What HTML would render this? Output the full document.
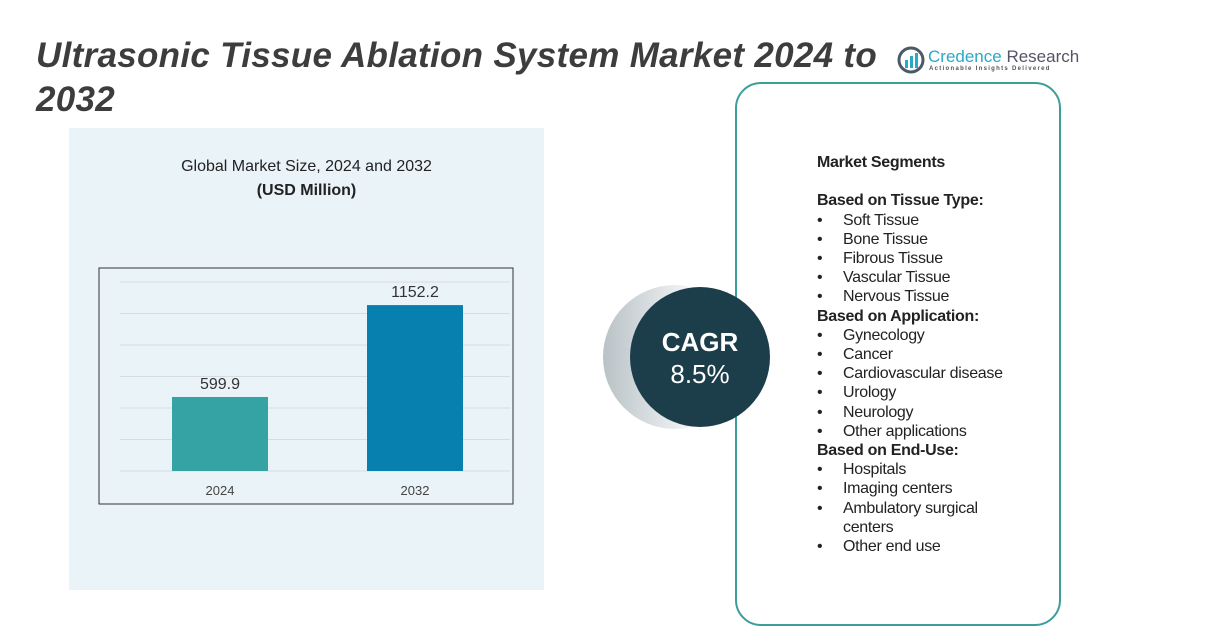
<!DOCTYPE html>
<html><head><meta charset="utf-8"><style>
body{margin:0;width:1206px;height:642px;background:#fff;position:relative;overflow:hidden;font-family:"Liberation Sans",sans-serif;color:#222}
.abs{position:absolute}
#title{left:36px;top:34px;font-size:35px;font-weight:bold;font-style:italic;color:#3d3d3d;line-height:44px;width:880px;letter-spacing:0.3px}
#panel{left:69px;top:128px;width:475px;height:462px;background:#eaf3f8}
#card{left:735px;top:82px;width:322px;height:540px;border:2px solid #3c9d9b;border-radius:26px;background:#fff}
#seg{left:817px;top:153px;font-size:16px;line-height:19.2px;color:#222;letter-spacing:-0.3px}
#seg b{font-weight:bold}
.li{padding-left:26px;position:relative}
.li:before{content:"•";position:absolute;left:0}
</style></head><body>
<div class="abs" id="title">Ultrasonic Tissue Ablation System Market 2024 to 2032</div>
<div class="abs" style="left:897px;top:46px">
<svg width="28" height="28"><circle cx="14" cy="14" r="12" fill="none" stroke="#4a5a66" stroke-width="3"/><rect x="8" y="14" width="3" height="8" fill="#29a9c9"/><rect x="13" y="10" width="3" height="12" fill="#29a9c9"/><rect x="18" y="7" width="3" height="15" fill="#29a9c9"/></svg>
<span style="position:absolute;left:31px;top:1px;font-size:17px;white-space:nowrap"><span style="color:#29a9c9">Credence</span> <span style="color:#556">Research</span></span>
<span style="position:absolute;left:32px;top:20px;font-size:6px;letter-spacing:1.3px;white-space:nowrap;color:#555;font-weight:bold">Actionable Insights Delivered</span>
</div>
<div class="abs" id="panel"></div>
<div class="abs" style="left:69px;top:158px;width:475px;text-align:center;font-size:16px">Global Market Size, 2024 and 2032<br><b style="line-height:30px">(USD Million)</b></div>
<svg class="abs" style="left:0;top:0" width="1206" height="642" id="chart"></svg>
<div class="abs" id="card"></div>
<div class="abs" style="left:603px;top:285px;width:144px;height:144px;border-radius:50%;background:linear-gradient(90deg,#b9c2c6 0%,#e4e8ea 45%,#fff 70%)"></div>
<div class="abs" style="left:630px;top:287px;width:140px;height:140px;border-radius:50%;background:#1c3e4a;color:#fff;text-align:center;font-size:26px;font-weight:bold;line-height:32px;box-sizing:border-box;padding-top:39px">CAGR<br><span style="font-weight:normal">8.5%</span></div>
<div class="abs" id="seg">
<b>Market Segments</b><br><br>
<b>Based on Tissue Type:</b>
<div class="li">Soft Tissue</div><div class="li">Bone Tissue</div><div class="li">Fibrous Tissue</div><div class="li">Vascular Tissue</div><div class="li">Nervous Tissue</div>
<b>Based on Application:</b>
<div class="li">Gynecology</div><div class="li">Cancer</div><div class="li">Cardiovascular disease</div><div class="li">Urology</div><div class="li">Neurology</div><div class="li">Other applications</div>
<b>Based on End-Use:</b>
<div class="li">Hospitals</div><div class="li">Imaging centers</div><div class="li">Ambulatory surgical<br>centers</div><div class="li">Other end use</div>
</div>
<script>
const categories=["2024","2032"];
const values=[599.9,1152.2];
const valueLabels=["599.9","1152.2"];
const colors=["#35a3a3","#0780b0"];
const NS="http://www.w3.org/2000/svg";
const svg=document.getElementById('chart');
const y0=471,y1=282,dmin=155,dmax=1291;
function y(v){return y0-(v-dmin)/(dmax-dmin)*(y0-y1);}
function x(i){return 172+i*195;}
function mk(t,a){const e=document.createElementNS(NS,t);for(const k in a)e.setAttribute(k,a[k]);svg.appendChild(e);return e;}
const box=mk('rect',{x:99,y:268,width:414,height:236,fill:'none',stroke:'#333','stroke-width':1});


for(let g=0;g<=6;g++){const yy=y0-g*(y0-y1)/6;const l=mk('line',{x1:120,x2:510,y1:yy,y2:yy,stroke:'#d5dde2'});

}
values.forEach((v,i)=>{
const r=mk('rect',{x:x(i),y:y(v),width:96,height:y0-y(v),fill:colors[i]});


const t=mk('text',{x:x(i)+48,y:y(v)-8,'text-anchor':'middle','font-size':16,fill:'#333'});t.textContent=valueLabels[i];


const c=mk('text',{x:x(i)+48,y:495,'text-anchor':'middle','font-size':13,fill:'#444'});c.textContent=categories[i];


});
</script>
</body></html>
